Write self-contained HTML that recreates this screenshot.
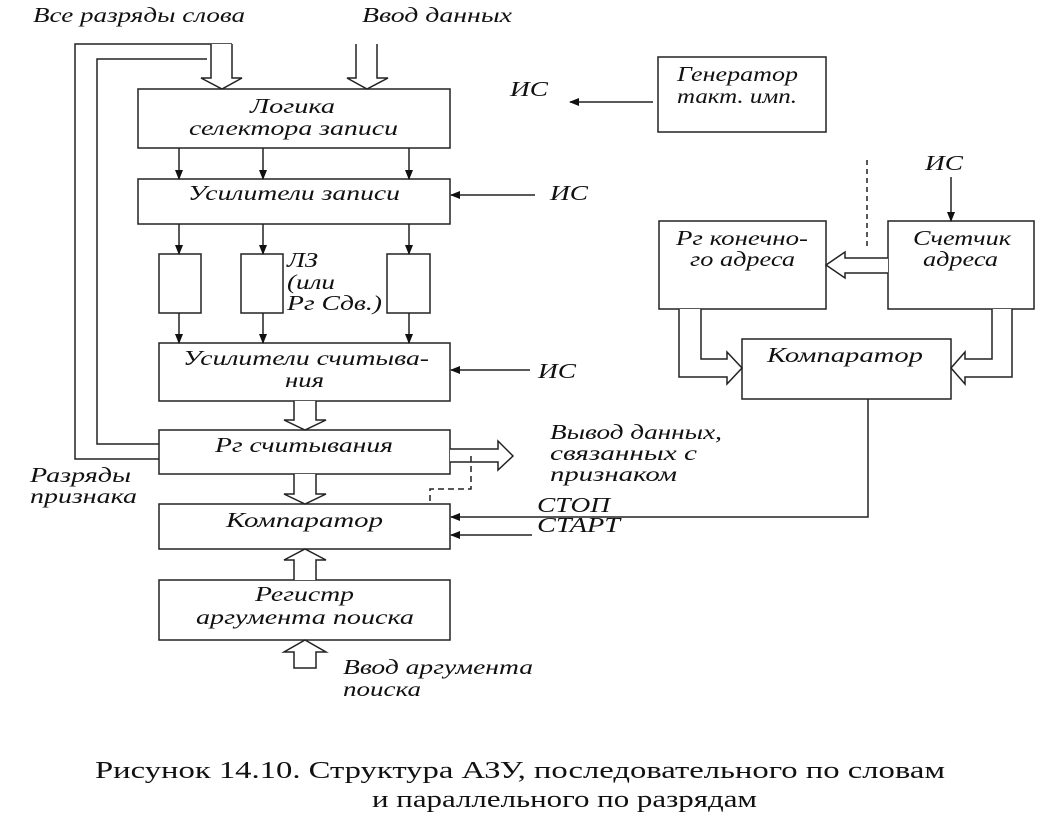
<!DOCTYPE html>
<html><head><meta charset="utf-8"><style>
html,body{margin:0;padding:0;background:#fff;}
svg{display:block;}
text{font-family:"Liberation Serif","DejaVu Serif",serif;font-style:italic;font-size:21px;fill:#111;}
.c{font-style:normal;font-size:24px;}
</style></head><body>
<svg width="1051" height="815" viewBox="0 0 1051 815" xmlns="http://www.w3.org/2000/svg">
<defs>
<marker id="a" markerWidth="10" markerHeight="8" refX="9" refY="4" orient="auto" markerUnits="userSpaceOnUse"><path d="M0,0 L10,4 L0,8 Z" fill="#111"/></marker>
</defs>
<g fill="none" stroke="#222" stroke-width="1.5">
<rect x="138" y="89" width="312" height="59" fill="#fff"/>
<rect x="138" y="179" width="312" height="45" fill="#fff"/>
<rect x="159" y="254" width="42" height="59"/>
<rect x="241" y="254" width="42" height="59"/>
<rect x="387" y="254" width="43" height="59"/>
<rect x="159" y="343" width="291" height="58"/>
<rect x="159" y="430" width="291" height="44"/>
<rect x="159" y="504" width="291" height="45"/>
<rect x="159" y="580" width="291" height="60"/>
<rect x="658" y="57" width="168" height="75"/>
<rect x="659" y="221" width="167" height="88"/>
<rect x="888" y="221" width="146" height="88"/>
<rect x="742" y="339" width="209" height="60"/>
<g marker-end="url(#a)">
<line x1="179" y1="148" x2="179" y2="179"/><line x1="263" y1="148" x2="263" y2="179"/><line x1="409" y1="148" x2="409" y2="179"/>
<line x1="179" y1="224" x2="179" y2="254"/><line x1="263" y1="224" x2="263" y2="254"/><line x1="409" y1="224" x2="409" y2="254"/>
<line x1="179" y1="313" x2="179" y2="343"/><line x1="263" y1="313" x2="263" y2="343"/><line x1="409" y1="313" x2="409" y2="343"/>
<line x1="535" y1="195" x2="451" y2="195"/>
<line x1="530" y1="370" x2="451" y2="370"/>
<line x1="653" y1="102" x2="570" y2="102"/>
<line x1="532" y1="535" x2="451" y2="535"/>
<polyline points="868,399 868,517 451,517"/>
<line x1="951" y1="177" x2="951" y2="221"/>
</g>
<polyline points="232,44 75,44 75,459 159,459"/>
<polyline points="207,59 97,59 97,444 159,444"/>
<path d="M211,44 V78 H201 L222,89 L242,78 H232 V44" fill="#fff"/>
<path d="M356,44 V78 H347 L367,89 L388,78 H377 V44" fill="#fff"/>
<path d="M294,401 V420 H284 L305,430 L326,420 H316 V401" fill="#fff"/>
<path d="M294,474 V494 H284 L305,504 L326,494 H316 V474" fill="#fff"/>
<path d="M294,580 V560 H284 L305,549 L326,560 H316 V580" fill="#fff"/>
<path d="M294,668 V652 H284 L305,640 L326,652 H316 V668 Z" fill="#fff"/>
<path d="M450,449 H498 V441 L513,456 L498,470 V462 H450" fill="#fff"/>
<polyline points="471,456 471,489 430,489 430,504" stroke-dasharray="6,4"/>
<path d="M888,258 H845 V252 L826,265 L845,278 V273 H888" fill="#fff"/>
<line x1="867" y1="160" x2="867" y2="250" stroke-dasharray="5,4"/>
<path d="M679,309 V377 H727 V384 L742,368 L727,352 V359 H701 V309" fill="#fff"/>
<path d="M1012,309 V377 H965 V384 L951,368 L965,352 V359 H992 V309" fill="#fff"/>
</g>
<g>
<text x="33" y="22" textLength="212" lengthAdjust="spacingAndGlyphs">Все разряды слова</text>
<text x="362" y="22" textLength="150" lengthAdjust="spacingAndGlyphs">Ввод данных</text>
<text x="250" y="113" textLength="85" lengthAdjust="spacingAndGlyphs">Логика</text>
<text x="189" y="135" textLength="209" lengthAdjust="spacingAndGlyphs">селектора записи</text>
<text x="188" y="200" textLength="212" lengthAdjust="spacingAndGlyphs">Усилители записи</text>
<text x="287" y="267" textLength="31" lengthAdjust="spacingAndGlyphs">ЛЗ</text>
<text x="287" y="289" textLength="48" lengthAdjust="spacingAndGlyphs">(или</text>
<text x="287" y="310" textLength="95" lengthAdjust="spacingAndGlyphs">Рг Сдв.)</text>
<text x="183" y="365" textLength="246" lengthAdjust="spacingAndGlyphs">Усилители считыва-</text>
<text x="285" y="387" textLength="39" lengthAdjust="spacingAndGlyphs">ния</text>
<text x="215" y="452" textLength="178" lengthAdjust="spacingAndGlyphs">Рг считывания</text>
<text x="226" y="527" textLength="157" lengthAdjust="spacingAndGlyphs">Компаратор</text>
<text x="255" y="601" textLength="99" lengthAdjust="spacingAndGlyphs">Регистр</text>
<text x="196" y="624" textLength="218" lengthAdjust="spacingAndGlyphs">аргумента поиска</text>
<text x="343" y="674" textLength="190" lengthAdjust="spacingAndGlyphs">Ввод аргумента</text>
<text x="343" y="696" textLength="78" lengthAdjust="spacingAndGlyphs">поиска</text>
<text x="30" y="482" textLength="101" lengthAdjust="spacingAndGlyphs">Разряды</text>
<text x="30" y="503" textLength="107" lengthAdjust="spacingAndGlyphs">признака</text>
<text x="510" y="96" textLength="38" lengthAdjust="spacingAndGlyphs">ИС</text>
<text x="550" y="200" textLength="38" lengthAdjust="spacingAndGlyphs">ИС</text>
<text x="538" y="378" textLength="38" lengthAdjust="spacingAndGlyphs">ИС</text>
<text x="550" y="439" textLength="172" lengthAdjust="spacingAndGlyphs">Вывод данных,</text>
<text x="550" y="460" textLength="147" lengthAdjust="spacingAndGlyphs">связанных с</text>
<text x="550" y="481" textLength="127" lengthAdjust="spacingAndGlyphs">признаком</text>
<text x="537" y="512" textLength="73" lengthAdjust="spacingAndGlyphs">СТОП</text>
<text x="537" y="532" textLength="83" lengthAdjust="spacingAndGlyphs">СТАРТ</text>
<text x="677" y="81" textLength="121" lengthAdjust="spacingAndGlyphs">Генератор</text>
<text x="677" y="103" textLength="120" lengthAdjust="spacingAndGlyphs">такт. имп.</text>
<text x="676" y="245" textLength="132" lengthAdjust="spacingAndGlyphs">Рг конечно-</text>
<text x="690" y="266" textLength="105" lengthAdjust="spacingAndGlyphs">го адреса</text>
<text x="913" y="245" textLength="98" lengthAdjust="spacingAndGlyphs">Счетчик</text>
<text x="923" y="266" textLength="75" lengthAdjust="spacingAndGlyphs">адреса</text>
<text x="767" y="362" textLength="156" lengthAdjust="spacingAndGlyphs">Компаратор</text>
<text x="925" y="170" textLength="38" lengthAdjust="spacingAndGlyphs">ИС</text>
<text class="c" x="95" y="778" textLength="850" lengthAdjust="spacingAndGlyphs">Рисунок 14.10. Структура АЗУ, последовательного по словам</text>
<text class="c" x="372" y="807" textLength="385" lengthAdjust="spacingAndGlyphs">и параллельного по разрядам</text>
</g>
</svg>
</body></html>
